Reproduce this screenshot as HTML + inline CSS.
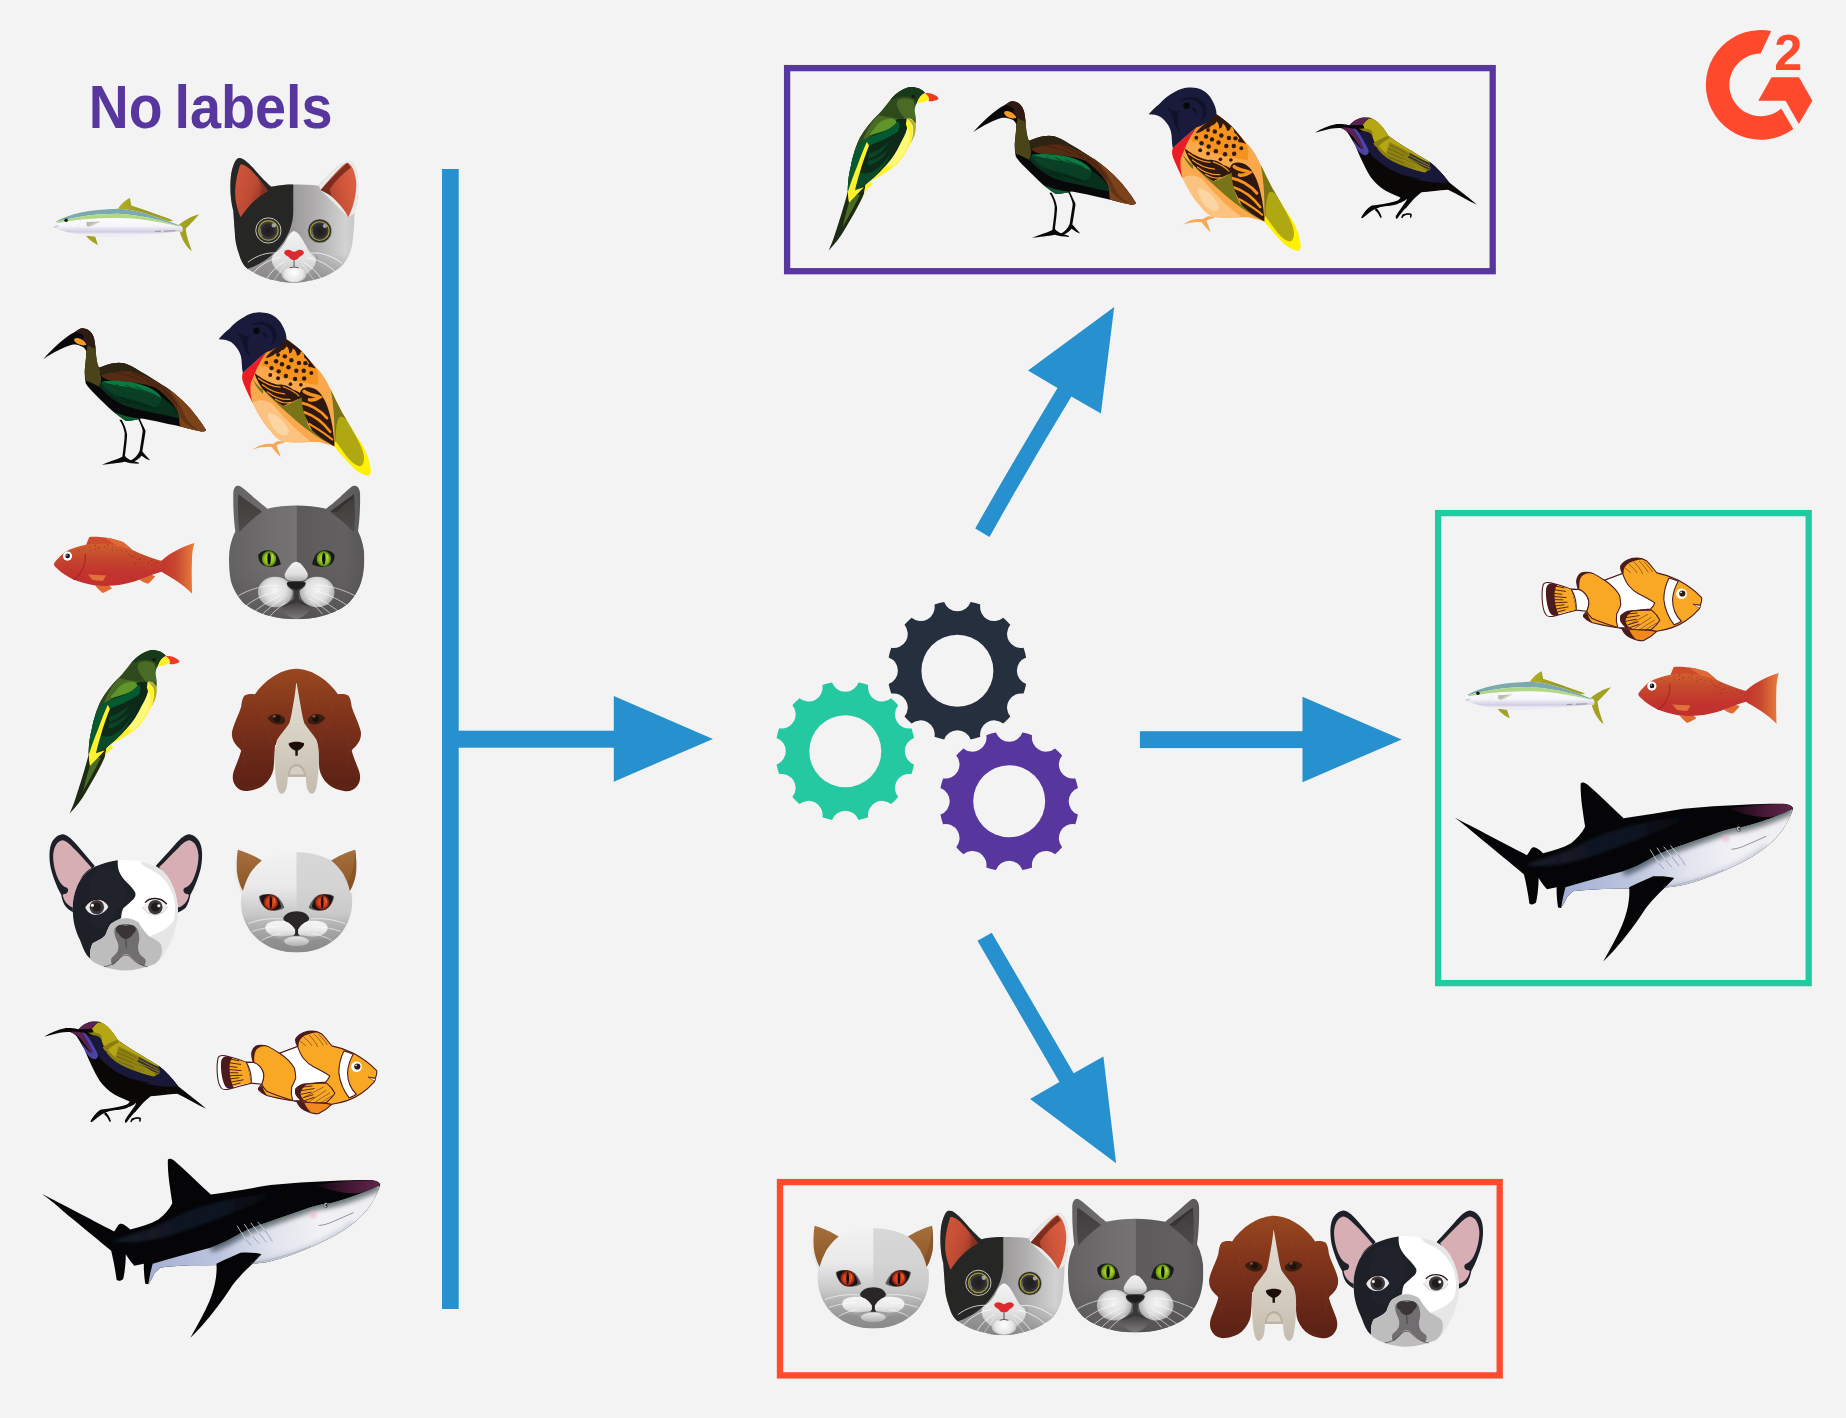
<!DOCTYPE html>
<html lang="en"><head><meta charset="utf-8"><title>No labels - unsupervised learning</title>
<style>
html,body{margin:0;padding:0;background:#f3f3f3;}
body{width:1846px;height:1418px;overflow:hidden;font-family:"Liberation Sans",sans-serif;}
svg{display:block}
</style></head><body>
<svg width="1846" height="1418" viewBox="0 0 1846 1418">
<defs>
<linearGradient id="tunaBody" gradientUnits="userSpaceOnUse" x1="0" y1="380" x2="0" y2="590">
<stop offset="0" stop-color="#ffffff"/><stop offset="0.45" stop-color="#f3f3f9"/><stop offset="0.72" stop-color="#d3cce2"/><stop offset="0.86" stop-color="#f1f0f7"/><stop offset="1" stop-color="#e4e4ee"/></linearGradient>
<linearGradient id="tunaFin" gradientUnits="userSpaceOnUse" x1="800" y1="0" x2="1400" y2="0">
<stop offset="0" stop-color="#b0ae2a"/><stop offset="0.5" stop-color="#9a981c"/><stop offset="1" stop-color="#a8a622"/></linearGradient>
<g id="tuna" transform="translate(40,180) scale(0.097504)">
<path fill="url(#tunaFin)" d="M795,300 C830,250 880,200 922,185 L937,262 C1050,300 1200,350 1368,415 L1330,425 C1200,395 1000,335 900,310 Z"/>
<path fill="#a3a122" d="M1422,462 C1480,412 1560,365 1632,350 C1580,415 1520,470 1494,500 C1502,580 1532,660 1557,727 C1500,690 1450,600 1435,530 Z"/>
<path fill="#a3a122" d="M470,570 L565,578 L594,667 C550,650 500,610 470,570 Z"/>
<path fill="url(#tunaBody)" d="M135,480 C140,455 150,435 165,425 C300,350 500,300 800,295 C1000,300 1200,380 1420,462 L1447,470 C1470,485 1470,520 1455,535 L1400,528 C1200,560 900,585 600,582 C450,575 300,545 200,510 C170,500 145,490 135,480 Z"/>
<path fill="#7ba9ad" d="M165,425 C300,350 500,300 800,295 C1000,300 1200,380 1420,462 L1440,476 C1300,440 1150,372 800,347 C550,347 350,382 165,432 Z"/>
<path fill="#b1d888" d="M165,432 C350,382 550,347 800,347 C1150,372 1300,440 1440,476 L1400,472 C1200,424 1000,390 800,390 C550,390 350,408 180,442 Z"/>
<path fill="#b9bca6" d="M475,432 L622,425 C580,440 545,468 505,478 L478,472 Z"/>
<path fill="#d9d9d0" d="M505,478 C515,455 540,440 575,432 L622,425 C580,440 545,468 505,478 Z" opacity=".7"/>
<circle cx="268" cy="412" r="18" fill="#161616"/>
<path fill="none" stroke="#dddde8" stroke-width="4" d="M415,395 C420,440 400,480 370,500"/>
<path fill="none" stroke="#66666e" stroke-width="6" stroke-dasharray="60 30 120 20" d="M1180,527 L1412,520"/>
<path fill="#d0c8e0" d="M135,480 C150,470 175,465 200,468 C180,480 160,490 150,492 Z"/>
</g>

<linearGradient id="calGrey" gradientUnits="userSpaceOnUse" x1="740" y1="0" x2="1400" y2="0">
<stop offset="0" stop-color="#9b9999"/><stop offset="0.35" stop-color="#b0aeae"/><stop offset="0.8" stop-color="#d2d2d2"/><stop offset="1" stop-color="#c4c4c4"/></linearGradient>
<linearGradient id="calLow" gradientUnits="userSpaceOnUse" x1="0" y1="1050" x2="0" y2="1340">
<stop offset="0" stop-color="#8e8c8c" stop-opacity="0"/><stop offset="1" stop-color="#7f7d7d" stop-opacity=".75"/></linearGradient>
<linearGradient id="calEarL" gradientUnits="userSpaceOnUse" x1="150" y1="300" x2="480" y2="420">
<stop offset="0" stop-color="#cf553b"/><stop offset="0.6" stop-color="#bd4a33"/><stop offset="1" stop-color="#8a3322"/></linearGradient>
<linearGradient id="calEarR" gradientUnits="userSpaceOnUse" x1="1050" y1="380" x2="1380" y2="300">
<stop offset="0" stop-color="#a8432c"/><stop offset="0.5" stop-color="#cc5439"/><stop offset="1" stop-color="#de5f41"/></linearGradient>
<linearGradient id="calMuz" gradientUnits="userSpaceOnUse" x1="0" y1="820" x2="0" y2="1300">
<stop offset="0" stop-color="#f4f4f4"/><stop offset="0.6" stop-color="#e2e2e2"/><stop offset="1" stop-color="#b9b9b9"/></linearGradient>
<radialGradient id="calChin" gradientUnits="userSpaceOnUse" cx="750" cy="1240" r="130">
<stop offset="0" stop-color="#ffffff"/><stop offset="0.7" stop-color="#e6e6e6"/><stop offset="1" stop-color="#bdbdbd"/></radialGradient>
<radialGradient id="calPupil" gradientUnits="userSpaceOnUse" cx="0" cy="0" r="90">
<stop offset="0" stop-color="#1d1b1e"/><stop offset="0.7" stop-color="#2a282b"/><stop offset="1" stop-color="#4a4a4c"/></radialGradient>
<clipPath id="calClip"><path d="M190,82 C230,75 300,140 360,210 C420,280 480,340 520,372 C600,355 680,350 740,350 C820,350 920,352 1000,362 C1050,300 1120,220 1200,160 C1250,125 1290,105 1315,112 C1370,125 1400,230 1402,350 C1402,480 1385,560 1362,640 C1362,720 1357,800 1350,850 C1345,950 1330,1020 1300,1080 C1270,1140 1230,1190 1180,1215 C1100,1270 1000,1310 900,1325 C850,1340 800,1345 740,1345 C680,1345 630,1340 580,1325 C480,1310 380,1270 300,1215 C250,1190 215,1130 195,1060 C165,980 150,900 150,830 C145,760 140,700 135,620 C110,520 100,420 105,330 C110,200 150,90 190,82 Z"/></clipPath>
<g id="calico" transform="translate(220,150) scale(0.098726)">
<g clip-path="url(#calClip)">
<rect x="80" y="60" width="1340" height="1300" fill="url(#calGrey)"/>
<path fill="#e9e9e9" d="M1000,362 C1050,300 1120,220 1200,160 C1250,125 1290,105 1315,112 C1370,125 1400,230 1402,350 C1402,480 1385,560 1362,640 L1300,680 L1020,405 Z"/>
<rect x="80" y="1000" width="1340" height="360" fill="url(#calLow)"/>
<path fill="#262625" d="M742,340 L742,640 C737,760 692,870 622,960 C562,1040 482,1110 402,1150 C352,1180 302,1200 255,1210 L0,1300 L0,0 L742,0 Z"/>
<path fill="url(#calMuz)" d="M750,820 C715,830 690,870 662,930 C625,990 575,1040 535,1065 C505,1110 535,1190 600,1235 C650,1300 850,1300 900,1235 C965,1190 995,1110 965,1065 C925,1040 880,990 848,930 C810,860 785,830 750,820 Z"/>
<path fill="#8f8d8d" opacity=".55" d="M870,960 C900,1010 940,1045 985,1070 C1000,1100 990,1150 960,1190 C990,1120 960,1075 930,1060 C905,1040 885,1000 870,960 Z"/>
<ellipse cx="750" cy="1262" rx="125" ry="78" fill="url(#calChin)"/>
</g>
<path fill="url(#calEarL)" d="M205,150 C170,250 140,400 160,520 C175,600 195,650 210,682 C260,600 330,520 400,470 C430,450 460,430 487,415 C440,350 380,270 320,210 C280,170 230,140 205,150 Z"/>
<path fill="#7c2c1b" opacity=".55" d="M487,415 C450,370 420,330 395,300 C420,360 420,420 400,470 Z"/>
<path fill="url(#calEarR)" d="M1290,130 C1330,140 1372,220 1380,330 C1385,450 1350,580 1300,680 C1260,600 1200,530 1130,470 C1090,440 1050,420 1020,405 C1080,330 1160,240 1230,170 C1255,150 1275,132 1290,130 Z"/>
<path fill="#6e2416" opacity=".8" d="M1020,405 C1100,320 1200,215 1290,130 L1325,180 C1245,240 1160,320 1110,400 L1130,470 C1090,440 1050,420 1020,405 Z"/>
<g transform="translate(490,815)">
<circle r="128" fill="#2a2a27" stroke="#efefef" stroke-width="8"/>
<circle r="99" fill="none" stroke="#a0973a" stroke-width="14"/>
<circle r="88" fill="url(#calPupil)"/>
<circle cx="55" cy="-52" r="22" fill="#c9caca" opacity=".75"/>
<path d="M-80,-20 A82,82 0 0 0 -60,58" fill="none" stroke="#8f979c" stroke-width="14" opacity=".6"/>
</g>
<g transform="translate(1010,820)">
<circle r="121" fill="#2a2a27" stroke="#bdbdbd" stroke-width="6"/>
<circle r="95" fill="none" stroke="#a0973a" stroke-width="14"/>
<circle r="84" fill="url(#calPupil)"/>
<circle cx="52" cy="-50" r="21" fill="#c9caca" opacity=".75"/>
<path d="M-76,-20 A78,78 0 0 0 -58,55" fill="none" stroke="#8f979c" stroke-width="13" opacity=".6"/>
</g>
<path fill="#dc2a30" d="M650,1035 C660,1008 700,1003 722,1020 C740,1035 760,1035 778,1020 C800,1003 840,1008 850,1035 C850,1060 822,1070 800,1087 C790,1107 770,1116 750,1113 C730,1116 710,1107 700,1087 C678,1070 650,1060 650,1035 Z"/>
<path fill="none" stroke="#3b2b2b" stroke-width="8" d="M750,1113 L750,1182 M705,1194 Q750,1176 795,1194"/>
<g fill="none" stroke="#ffffff" stroke-width="7.5" stroke-linecap="round">
<path d="M580,1045 C480,1030 370,1070 285,1135"/><path d="M615,1085 C510,1100 400,1170 335,1245"/><path d="M650,1135 C580,1170 520,1230 480,1295"/><path d="M660,1160 C610,1230 560,1300 520,1360" opacity=".6"/>
<path d="M920,1045 C1020,1030 1140,1075 1235,1145"/><path d="M885,1090 C990,1105 1100,1165 1170,1235"/><path d="M850,1140 C920,1175 980,1235 1020,1295"/><path d="M840,1165 C890,1235 940,1300 985,1365" opacity=".6"/>
</g>
</g>

<g id="ibis" transform="translate(30,310) scale(0.119889)">
<path fill="#08080a" d="M110,410 C180,330 280,230 370,185 C400,165 420,155 430,152 C480,150 520,180 535,240 C545,290 548,330 550,370 C555,420 560,460 575,482 C620,465 680,440 740,440 C800,440 850,470 900,500 C1000,560 1100,620 1150,655 C1250,730 1320,800 1360,850 C1410,910 1450,970 1468,1000 C1460,1015 1440,1018 1410,1010 C1350,1000 1270,975 1200,960 C1100,940 1000,915 930,905 C880,918 840,925 800,925 C760,900 720,870 690,845 C640,800 590,750 555,715 C510,670 480,640 465,610 C455,560 455,510 460,470 C465,420 470,380 470,345 C460,320 440,300 420,300 C400,290 380,285 350,290 C280,310 200,350 110,410 Z"/>
<path fill="#2f1a14" d="M380,180 C400,165 420,152 430,152 C480,150 520,180 535,240 C540,270 545,300 547,325 L480,292 C475,275 460,262 445,255 C440,240 445,225 450,215 C430,200 400,190 380,180 Z"/>
<path fill="#f49a28" d="M370,240 C390,225 420,235 445,255 C460,268 470,280 470,292 C440,302 400,290 380,270 C370,260 365,250 370,240 Z"/>
<path fill="#4a4419" d="M480,292 L547,325 C550,370 555,430 575,482 C595,478 600,500 585,540 C600,560 595,600 578,640 C540,620 500,600 465,590 C455,540 455,500 460,470 C465,420 470,380 470,345 C475,325 478,305 480,292 Z"/>
<path fill="#2e2412" d="M575,482 C620,465 680,440 740,440 C800,440 850,470 900,500 C960,535 1020,570 1080,610 C980,570 880,530 800,520 C720,515 640,530 590,545 C585,520 580,500 575,482 Z"/>
<path fill="#562b14" d="M590,545 C680,520 760,505 850,515 C1000,560 1100,620 1150,655 C1250,730 1320,800 1360,850 L1245,875 C1200,780 1130,700 1050,650 C950,610 800,592 700,592 C650,588 610,572 590,545 Z"/>
<path fill="#7c431b" d="M1150,655 C1250,730 1320,800 1360,850 C1410,910 1450,970 1468,1000 C1460,1015 1440,1018 1410,1010 C1350,1000 1300,985 1250,970 L1240,870 C1225,790 1190,720 1150,655 Z"/>
<path fill="#5c3014" opacity=".8" d="M1150,655 C1210,720 1260,800 1290,880 C1310,920 1350,970 1410,1000 C1350,990 1290,950 1260,900 C1230,820 1190,720 1150,655 Z"/>
<path fill="#08301d" d="M578,640 C580,610 590,600 600,598 C620,660 690,700 760,720 C850,740 950,770 1040,812 C1070,800 1100,760 1090,720 C1150,760 1220,820 1240,870 L1248,905 C1200,895 1150,882 1100,872 C1000,852 900,832 800,800 C720,770 640,710 578,640 Z"/>
<path fill="#0a7a40" d="M600,598 C680,585 800,590 900,615 C1000,640 1060,680 1090,720 C1100,760 1070,800 1040,812 C950,770 850,740 760,720 C690,700 620,660 600,598 Z"/>
<path fill="#0a3f26" d="M600,598 C620,660 690,700 760,720 C850,740 950,770 1040,812 C1070,800 1095,770 1090,730 C1020,690 900,660 820,645 C740,632 660,620 600,598 Z"/>
<g fill="none" stroke-linecap="round">
<g stroke="#0b4a2a" stroke-width="9"><path d="M640,625 C680,660 720,680 760,690"/><path d="M720,620 C770,655 820,672 870,680"/><path d="M800,625 C850,655 910,672 960,678"/><path d="M880,640 C930,665 980,685 1030,700"/></g>
<g stroke="#07261a" stroke-width="10"><path d="M640,700 C700,740 770,765 840,780"/><path d="M760,735 C830,765 900,785 980,800"/><path d="M880,770 C940,795 1000,812 1060,828"/></g>
<g stroke="#3d2010" stroke-width="8" opacity=".8"><path d="M700,520 C780,530 860,555 930,590"/><path d="M850,525 C930,555 1010,595 1080,640"/><path d="M980,600 C1050,640 1110,690 1160,750"/><path d="M1060,620 C1130,670 1190,730 1230,800"/></g>
</g>
<path fill="#0a5a34" d="M690,845 C760,880 850,900 930,905 C880,918 840,925 800,925 C760,900 720,870 690,845 Z"/>
<path fill="#08080a" d="M765,915 C790,960 805,1000 810,1040 C807,1100 797,1170 792,1215 C802,1235 832,1250 852,1255 L908,1275 L908,1283 C860,1280 820,1275 790,1265 C740,1275 660,1285 600,1290 C650,1270 720,1250 770,1225 C780,1150 790,1080 790,1030 C785,990 770,950 745,915 Z"/>
<path fill="#08080a" d="M915,905 C935,950 955,985 964,1010 C957,1060 947,1120 937,1180 C962,1210 987,1235 1002,1254 C972,1245 947,1225 930,1215 C910,1240 880,1262 850,1267 L838,1256 C875,1240 900,1210 915,1175 C925,1110 935,1050 940,1010 C935,980 920,945 900,905 Z"/>
</g>

<g id="obird" transform="translate(205,300) scale(0.130463)">
<path fill="#fff200" d="M960,680 C1000,760 1030,820 1050,860 C1100,950 1160,1040 1200,1100 C1240,1170 1265,1240 1270,1300 C1272,1330 1265,1347 1250,1347 C1210,1342 1170,1315 1150,1300 C1090,1240 1030,1170 985,1115 C990,1000 980,850 960,680 Z"/>
<path fill="#b0a812" d="M1030,900 C1060,880 1090,920 1120,980 C1160,1050 1200,1120 1215,1180 C1225,1230 1215,1265 1190,1275 C1150,1270 1110,1230 1080,1190 C1040,1140 1015,1100 990,1070 C995,1000 1010,930 1030,900 Z"/>
<path fill="#7a7418" d="M960,680 C1000,760 1030,820 1050,860 C1080,910 1110,960 1125,990 C1090,920 1060,880 1030,900 C1010,930 1000,1000 1000,1080 L985,1115 C990,1000 980,850 960,680 Z"/>
<path fill="#f9a94b" d="M290,560 C280,590 285,610 300,650 C320,700 345,750 365,790 C400,860 450,950 500,1000 C530,1040 560,1070 600,1085 C700,1100 800,1085 880,1090 C920,1100 960,1110 992,1122 C996,980 990,820 964,690 C935,615 885,545 850,515 C780,430 700,350 625,300 L470,400 Z"/>
<path fill="#fbc280" d="M365,790 C400,860 450,950 500,1000 C530,1040 560,1070 600,1085 C700,1100 790,1090 810,1082 C700,1000 600,900 520,800 C470,760 400,760 365,790 Z"/>
<path fill="#fcd5a5" d="M480,870 C520,860 580,900 620,960 C650,1000 650,1030 620,1040 C580,1040 540,1010 515,970 C495,930 480,900 480,870 Z"/>
<path fill="#f6921e" d="M470,400 L540,370 L625,300 C700,350 780,430 850,520 C872,560 872,620 862,652 C800,642 700,622 600,600 C540,560 470,480 430,520 C440,470 450,430 470,400 Z"/>
<g fill="#2e1810">
<circle cx="545" cy="470" r="17"/><circle cx="612" cy="432" r="17"/><circle cx="662" cy="462" r="17"/><circle cx="720" cy="482" r="17"/><circle cx="770" cy="484" r="17"/><circle cx="590" cy="492" r="17"/><circle cx="640" cy="516" r="17"/><circle cx="700" cy="542" r="17"/><circle cx="757" cy="542" r="17"/><circle cx="510" cy="522" r="17"/><circle cx="565" cy="547" r="17"/><circle cx="620" cy="582" r="17"/><circle cx="690" cy="606" r="17"/><circle cx="760" cy="602" r="17"/><circle cx="805" cy="500" r="15"/><circle cx="470" cy="480" r="15"/><circle cx="500" cy="575" r="15"/><circle cx="560" cy="600" r="15"/><circle cx="815" cy="560" r="15"/><circle cx="655" cy="645" r="14"/><circle cx="735" cy="650" r="14"/><circle cx="560" cy="420" r="15"/>
<path d="M625,300 C660,325 700,350 740,390 C780,430 815,480 850,525 L815,515 C800,480 780,450 760,440 C765,420 750,400 735,395 C730,420 720,430 705,425 C700,400 690,380 672,370 C670,395 660,410 645,408 C645,385 640,365 625,355 C615,375 600,385 585,385 C580,400 560,410 540,410 C520,430 490,440 465,445 C475,425 500,400 540,370 Z"/>
<path d="M380,560 C430,600 500,640 560,650 C600,640 640,660 680,690 C720,700 740,720 745,745 L600,812 C540,780 480,720 440,680 C410,640 390,600 380,560 Z"/>
<path d="M745,680 C800,650 870,680 900,740 C940,800 960,880 975,960 C985,1020 990,1080 992,1122 C940,1090 880,1060 830,1020 C790,940 750,860 720,800 C710,760 720,710 745,680 Z"/>
</g>
<g fill="none" stroke="#f6921e" stroke-linecap="round">
<path stroke-width="11" d="M410,600 C460,640 520,665 575,668"/><path stroke-width="10" d="M440,650 C490,690 550,715 610,720"/><path stroke-width="10" d="M480,705 C530,745 590,765 650,762"/><path stroke-width="9" d="M540,760 C580,785 620,795 660,785"/><path stroke-width="10" d="M600,665 C640,680 690,705 720,735"/>
<path stroke-width="26" d="M760,700 C800,730 850,730 880,745 C860,760 830,770 800,765"/>
<path stroke-width="22" d="M745,790 C800,800 880,840 935,905"/><path stroke-width="20" d="M760,860 C820,880 900,930 960,1010"/><path stroke-width="16" d="M800,950 C850,980 920,1020 975,1070"/>
</g>
<path fill="#7a7418" d="M445,690 C500,740 560,790 600,815 C650,800 700,770 742,745 C737,800 760,880 800,980 C860,1040 930,1090 992,1122 C930,1092 850,1045 760,975 C690,920 570,815 445,690 Z"/>
<path fill="#7a7418" d="M365,610 C385,650 410,690 445,720 L445,690 C415,665 390,640 365,610 Z"/>
<path fill="#ec1c24" d="M470,400 C420,440 340,510 290,560 C280,590 285,610 300,650 C320,700 345,750 365,790 C350,740 345,690 350,640 C365,600 385,560 400,520 C420,480 445,440 470,400 Z"/>
<path fill="#1a1b3a" d="M105,300 C130,270 160,240 185,222 C220,180 260,150 300,130 C340,105 390,92 430,95 C500,95 560,130 590,190 C615,230 625,270 625,300 C600,330 570,355 540,370 C515,385 490,395 470,400 C420,440 340,510 290,560 C280,520 285,470 275,430 C265,390 235,350 200,322 C170,305 135,300 105,300 Z"/>
<path fill="#10112a" d="M230,230 C260,260 285,310 300,360 C310,400 330,420 350,430 C320,380 320,320 340,270 C300,290 260,260 230,230 Z M340,200 C400,150 500,160 540,230 C560,280 540,330 500,350 C540,300 520,230 470,200 C430,180 380,185 340,200 Z M430,250 C460,240 480,270 470,300 C460,290 445,270 430,250 Z"/>
<circle cx="395" cy="235" r="25" fill="#08080a"/>
<path fill="#f6a85a" d="M600,1085 C560,1072 540,1088 520,1103 C470,1098 410,1108 368,1147 C420,1127 470,1122 510,1127 C530,1152 555,1182 580,1204 C572,1172 555,1140 550,1115 C570,1102 590,1097 612,1097 Z"/>
</g>

<linearGradient id="rfBody" gradientUnits="userSpaceOnUse" x1="0" y1="260" x2="0" y2="710">
<stop offset="0" stop-color="#d0602f"/><stop offset="0.3" stop-color="#c54a2d"/><stop offset="0.7" stop-color="#c2332e"/><stop offset="1" stop-color="#c2302e"/></linearGradient>
<linearGradient id="rfTail" gradientUnits="userSpaceOnUse" x1="1320" y1="0" x2="1670" y2="0">
<stop offset="0" stop-color="#c2362e"/><stop offset="0.45" stop-color="#c8472e"/><stop offset="1" stop-color="#e97d3c"/></linearGradient>
<linearGradient id="rfFin" gradientUnits="userSpaceOnUse" x1="0" y1="0" x2="1" y2="0" gradientTransform="translate(520,0) scale(200,1)">
<stop offset="0" stop-color="#cf4a2c"/><stop offset="1" stop-color="#e8773a"/></linearGradient>
<g id="redfish" transform="translate(40,520) scale(0.092090)">
<path fill="#cf4a2c" d="M500,272 L535,185 C600,180 660,185 700,190 C780,200 850,220 900,240 C940,270 970,295 1000,322 Z"/>
<path fill="#e06a35" d="M700,190 C780,200 850,220 900,240 C940,270 970,295 1000,322 L850,290 Z"/>
<path fill="#e06a32" d="M600,712 C625,745 650,770 680,792 C720,775 750,760 782,740 L740,700 Z"/>
<path fill="#e06a32" d="M1080,650 C1110,670 1140,685 1172,692 C1200,670 1230,640 1252,610 C1225,600 1200,595 1180,595 Z"/>
<path fill="url(#rfBody)" d="M150,480 C160,455 180,430 200,415 C220,390 240,370 260,355 C330,310 420,285 500,270 C590,255 680,255 750,260 C840,275 920,295 1000,322 C1100,370 1200,410 1300,440 L1340,445 L1340,560 L1320,562 C1250,580 1170,615 1100,640 C1000,680 900,700 800,712 C730,718 660,716 600,712 C510,695 420,670 350,640 C290,610 240,575 200,540 C175,520 160,505 155,495 Z"/>
<path fill="url(#rfTail)" d="M1320,442 C1360,400 1420,360 1480,330 C1550,295 1620,265 1677,250 C1660,300 1650,370 1650,440 C1645,560 1650,700 1652,802 C1600,750 1540,700 1480,660 C1420,620 1360,590 1320,562 C1335,520 1335,480 1320,442 Z"/>
<path fill="#e2703a" d="M520,590 C580,598 650,600 717,600 C705,625 695,645 682,662 C640,660 600,655 570,648 C550,630 535,610 520,590 Z"/>
<path fill="none" stroke="#a82a24" stroke-width="14" stroke-linecap="round" d="M490,370 C500,450 470,540 420,600 C400,625 385,638 368,645"/>
<circle cx="298" cy="392" r="50" fill="#ffffff"/>
<circle cx="300" cy="390" r="25" fill="#15131c"/>
<circle cx="292" cy="382" r="7" fill="#ffffff"/>
<g fill="#6e1a14" opacity=".9">
<circle cx="400" cy="318" r="5"/><circle cx="430" cy="330" r="5"/><circle cx="470" cy="305" r="5"/><circle cx="540" cy="290" r="5"/><circle cx="545" cy="325" r="5"/><circle cx="600" cy="275" r="6"/><circle cx="600" cy="320" r="5"/><circle cx="640" cy="300" r="6"/><circle cx="700" cy="290" r="5"/><circle cx="735" cy="268" r="6"/><circle cx="730" cy="305" r="5"/><circle cx="790" cy="295" r="5"/><circle cx="785" cy="330" r="5"/><circle cx="830" cy="320" r="5"/><circle cx="880" cy="330" r="5"/><circle cx="940" cy="340" r="5"/><circle cx="960" cy="375" r="5"/><circle cx="990" cy="390" r="6"/><circle cx="1020" cy="405" r="5"/><circle cx="1040" cy="370" r="5"/><circle cx="1050" cy="430" r="5"/><circle cx="1080" cy="425" r="6"/><circle cx="1040" cy="470" r="6"/><circle cx="1110" cy="460" r="5"/><circle cx="1140" cy="430" r="5"/><circle cx="1180" cy="465" r="5"/><circle cx="1215" cy="440" r="6"/><circle cx="1210" cy="490" r="5"/><circle cx="1250" cy="470" r="5"/><circle cx="1275" cy="465" r="6"/><circle cx="1305" cy="490" r="5"/>
</g>
</g>

<linearGradient id="gcL" gradientUnits="userSpaceOnUse" x1="90" y1="0" x2="745" y2="0">
<stop offset="0" stop-color="#636161"/><stop offset="0.6" stop-color="#6f6d6d"/><stop offset="1" stop-color="#757373"/></linearGradient>
<linearGradient id="gcR" gradientUnits="userSpaceOnUse" x1="745" y1="0" x2="1410" y2="0">
<stop offset="0" stop-color="#5c5a5a"/><stop offset="0.7" stop-color="#626060"/><stop offset="1" stop-color="#585656"/></linearGradient>
<linearGradient id="gcLow" gradientUnits="userSpaceOnUse" x1="0" y1="850" x2="0" y2="1360"><stop offset="0" stop-color="#555353" stop-opacity="0"/><stop offset="1" stop-color="#4e4c4c" stop-opacity=".6"/></linearGradient>
<linearGradient id="gcEar" gradientUnits="userSpaceOnUse" x1="0" y1="140" x2="0" y2="520">
<stop offset="0" stop-color="#403c3c"/><stop offset="1" stop-color="#4e4a4a"/></linearGradient>
<radialGradient id="gcMuz" gradientUnits="userSpaceOnUse" cx="0" cy="-20" r="180">
<stop offset="0" stop-color="#f4f4f4"/><stop offset="0.6" stop-color="#dedede"/><stop offset="1" stop-color="#a9a9a9"/></radialGradient>
<linearGradient id="gcNoseB" gradientUnits="userSpaceOnUse" x1="0" y1="800" x2="0" y2="1000">
<stop offset="0" stop-color="#f2f2f2"/><stop offset="0.6" stop-color="#e0e0e0"/><stop offset="1" stop-color="#a5a5a5"/></linearGradient>
<linearGradient id="gcChin" gradientUnits="userSpaceOnUse" x1="0" y1="1220" x2="0" y2="1360">
<stop offset="0" stop-color="#4a4848"/><stop offset="1" stop-color="#7d7b7b"/></linearGradient>
<radialGradient id="gcIris" gradientUnits="userSpaceOnUse" cx="0" cy="0" r="75">
<stop offset="0" stop-color="#b7e02a"/><stop offset="0.6" stop-color="#8fc21c"/><stop offset="1" stop-color="#4f7a10"/></radialGradient>
<clipPath id="gcClip"><path d="M170,55 C200,50 260,110 330,170 C380,215 430,255 462,280 C550,258 650,250 745,250 C840,250 940,258 1038,280 C1070,255 1120,215 1170,170 C1240,110 1290,50 1320,55 C1360,65 1372,110 1370,160 C1372,280 1362,420 1350,500 C1390,580 1412,670 1412,760 C1412,850 1400,940 1380,1000 C1350,1090 1300,1170 1240,1220 C1170,1270 1090,1310 1000,1330 C920,1352 830,1362 745,1362 C660,1362 570,1352 490,1330 C400,1310 320,1270 250,1220 C190,1170 140,1090 110,1000 C95,940 88,850 88,760 C88,670 110,580 150,500 C138,420 128,280 130,160 C128,110 135,65 170,55 Z"/></clipPath>
<g id="greycat" transform="translate(220,480) scale(0.102260)">
<g clip-path="url(#gcClip)">
<rect x="80" y="40" width="666" height="1330" fill="url(#gcL)"/>
<rect x="745" y="40" width="680" height="1330" fill="url(#gcR)"/>
<rect x="80" y="850" width="1340" height="520" fill="url(#gcLow)"/>
<path fill="url(#gcChin)" d="M600,1240 C650,1215 700,1195 745,1185 C790,1195 840,1215 890,1240 C870,1300 820,1340 745,1362 C670,1340 620,1300 600,1240 Z"/>
</g>
<path fill="url(#gcEar)" d="M180,140 C250,190 340,255 412,310 C330,370 250,440 190,512 C175,400 170,260 180,140 Z"/>
<path fill="url(#gcEar)" d="M1310,140 C1240,190 1150,255 1078,310 C1160,370 1240,440 1310,512 C1320,400 1322,260 1310,140 Z"/>
<path fill="#2e2a2a" opacity=".6" d="M1078,310 C1150,255 1240,190 1310,140 L1300,175 C1240,220 1180,270 1140,315 Z"/>
<g transform="translate(540,1095)"><ellipse rx="170" ry="150" fill="url(#gcMuz)"/></g>
<g transform="translate(950,1095)"><ellipse rx="170" ry="150" fill="url(#gcMuz)"/></g>
<path fill="url(#gcNoseB)" d="M745,800 C700,805 672,850 642,900 C612,955 650,992 745,994 C840,992 878,955 850,900 C820,850 790,805 745,800 Z"/>
<path fill="#3a3838" d="M655,1002 C680,985 810,985 838,1002 C845,1030 810,1065 770,1082 L770,1160 C800,1195 850,1225 892,1240 L745,1200 L600,1240 C640,1225 690,1195 722,1160 L722,1082 C680,1065 645,1030 655,1002 Z"/>
<path fill="#1e1c1c" d="M660,1005 C690,992 800,992 832,1005 C830,1030 800,1055 745,1075 C690,1055 660,1030 660,1005 Z"/>
<g transform="translate(480,770)">
<path fill="#1c1a18" d="M-105,-40 C-60,-95 40,-100 85,-30 C100,0 110,30 115,55 C70,85 -30,95 -80,45 C-100,20 -108,-10 -105,-40 Z"/>
<ellipse rx="70" ry="76" fill="url(#gcIris)"/>
<ellipse rx="17" ry="58" fill="#0d0d12"/>
<path fill="#d8f08a" opacity=".6" d="M25,-55 C45,-40 50,-10 40,10 C35,-15 30,-35 25,-55 Z"/>
</g>
<g transform="translate(1015,770) scale(-1,1)">
<path fill="#1c1a18" d="M-105,-40 C-60,-95 40,-100 85,-30 C100,0 110,30 115,55 C70,85 -30,95 -80,45 C-100,20 -108,-10 -105,-40 Z"/>
<ellipse rx="70" ry="76" fill="url(#gcIris)"/>
<ellipse rx="17" ry="58" fill="#0d0d12"/>
<path fill="#d8f08a" opacity=".6" d="M-25,-55 C-45,-40 -50,-10 -40,10 C-35,-15 -30,-35 -25,-55 Z"/>
</g>
<g fill="none" stroke="#ffffff" stroke-width="5" stroke-linecap="round" stroke-dasharray="14 3">
<path d="M560,1030 C420,1030 280,1070 175,1135"/><path d="M540,1090 C430,1120 330,1170 255,1230"/><path d="M590,1130 C480,1180 390,1240 335,1290"/><path d="M610,1165 C520,1220 450,1275 410,1320"/><path d="M640,1200 C570,1250 520,1295 490,1330"/>
<path d="M940,1030 C1080,1030 1210,1075 1325,1135"/><path d="M950,1090 C1060,1120 1170,1170 1245,1230"/><path d="M900,1130 C1010,1180 1100,1240 1160,1285"/><path d="M870,1160 C960,1215 1040,1270 1085,1310"/><path d="M885,1195 C940,1240 975,1280 1000,1310"/>
</g>
</g>

<g id="gbird" transform="translate(50,640) scale(0.126939)">
<path fill="#1e2a14" d="M305,900 C280,1000 240,1130 200,1250 C185,1300 165,1340 155,1367 C200,1320 250,1260 285,1195 C340,1100 400,1000 432,920 L445,850 Z"/>
<path fill="#4a6b25" d="M330,930 C310,1010 280,1100 262,1190 C300,1120 350,1030 400,930 C380,925 350,925 330,930 Z"/>
<path fill="#0d2a18" d="M540,300 C600,300 700,320 770,330 L772,405 L720,522 L600,702 L440,852 L360,892 L305,900 C305,820 315,760 330,700 C345,620 370,540 400,480 C440,410 490,350 540,300 Z"/>
<path fill="#2e4a1c" d="M640,180 C680,130 740,90 790,80 C840,75 890,95 912,125 C880,140 860,170 850,205 C835,225 830,250 830,272 C840,300 842,340 840,372 C820,330 790,320 770,330 C700,330 640,340 600,360 C560,390 520,430 490,470 C440,520 410,580 400,640 C380,720 340,820 305,900 C305,820 315,760 330,700 C345,620 370,540 400,480 C440,410 490,350 540,300 C580,260 610,220 640,180 Z"/>
<path fill="#173a1a" d="M640,180 C680,130 740,90 790,80 C840,75 890,95 912,125 C880,140 860,170 850,205 C840,200 830,185 825,170 C780,150 720,150 680,170 C665,172 650,176 640,180 Z"/>
<path fill="#4a6b25" d="M700,180 C740,160 790,165 820,185 C835,215 830,250 830,272 C835,300 838,320 835,340 C810,325 780,322 760,330 C730,300 700,260 690,220 C690,205 693,190 700,180 Z"/>
<path fill="#4a6b25" d="M540,300 C580,310 640,320 700,330 C640,350 580,380 530,420 C490,450 450,490 420,520 C440,440 490,360 540,300 Z"/>
<path fill="#5f9629" d="M520,400 C550,350 610,320 660,330 C690,340 700,370 680,390 C640,410 580,430 530,445 C500,455 470,465 480,450 C490,430 505,415 520,400 Z"/>
<circle cx="820" cy="155" r="14" fill="#1a1410"/>
<path fill="#ffef1a" d="M850,205 C860,170 885,140 912,128 C940,128 955,140 950,160 C945,180 920,195 890,200 C875,205 860,207 850,205 Z"/>
<path fill="#ee3a24" d="M912,128 C945,122 985,135 1010,155 C1020,165 1022,172 1015,178 C990,190 960,195 940,190 C950,170 945,150 912,128 Z"/>
<path fill="#b5b01c" d="M770,330 C800,325 830,345 840,372 C845,430 830,480 800,522 C820,470 825,420 815,380 C800,355 785,340 770,330 Z"/>
<path fill="#fff22d" d="M770,330 C790,345 810,370 815,400 C820,440 810,490 800,522 C770,580 740,630 700,680 C660,720 610,750 560,780 C520,800 480,825 445,850 L432,920 C440,900 470,870 500,845 C480,830 470,800 600,700 C660,640 700,580 720,520 C740,460 760,400 770,330 Z"/>
<path fill="#fff97a" d="M770,400 C800,430 800,500 770,560 C740,620 700,680 650,710 C630,715 615,700 620,680 C660,620 700,570 720,520 C740,470 760,430 770,400 Z"/>
<path fill="#0d2a18" d="M730,330 C750,350 770,380 772,405 C760,450 740,490 720,522 C690,590 650,650 600,702 C550,760 490,815 440,852 C410,870 385,882 360,892 C370,850 385,800 400,752 C420,680 445,610 470,540 L455,510 C420,520 390,520 380,530 C420,500 480,470 540,450 C600,430 660,400 700,350 C710,340 720,333 730,330 Z"/>
<path fill="#065a32" d="M380,530 C420,500 480,470 540,450 C600,430 660,400 700,350 C715,370 715,400 700,430 C640,470 560,510 470,540 L455,510 C430,515 400,520 380,530 Z"/>
<path fill="#0a4a2a" d="M400,752 C440,770 490,760 540,720 C580,690 620,640 650,590 C620,660 580,720 530,770 C490,810 440,850 400,875 L360,892 C370,850 385,800 400,752 Z"/>
<path fill="#0a4326" d="M470,600 C520,590 580,560 630,510 C600,570 540,620 475,645 C465,632 465,615 470,600 Z M465,660 C520,650 580,615 625,570 C595,630 535,680 470,700 C460,690 460,672 465,660 Z"/>
<path fill="#065a32" d="M330,700 C345,620 370,560 395,525 L455,510 C430,560 400,640 380,700 C355,780 330,850 315,905 L305,900 C305,820 315,760 330,700 Z"/>
<path fill="#fff22d" d="M455,510 L472,542 C445,610 420,680 400,752 C385,800 372,850 362,892 L432,868 C395,910 350,955 315,992 C308,960 305,930 307,900 C330,830 355,760 380,700 C405,630 430,565 455,510 Z"/>
</g>

<linearGradient id="bgBrown" gradientUnits="userSpaceOnUse" x1="0" y1="130" x2="0" y2="1290">
<stop offset="0" stop-color="#98481f"/><stop offset="0.35" stop-color="#82351b"/><stop offset="0.7" stop-color="#6a2818"/><stop offset="1" stop-color="#5a2114"/></linearGradient>
<linearGradient id="bgWhite" gradientUnits="userSpaceOnUse" x1="0" y1="270" x2="0" y2="1310">
<stop offset="0" stop-color="#e4dfd4"/><stop offset="0.5" stop-color="#d6d0c3"/><stop offset="1" stop-color="#c4bcae"/></linearGradient>
<g id="beagle" transform="translate(220,655) scale(0.105787)">
<path fill="url(#bgBrown)" d="M722,130 C640,130 560,165 500,205 C430,250 370,310 330,372 C290,365 250,370 230,385 C210,410 205,450 200,490 C180,560 140,630 120,700 C100,760 120,820 160,860 C180,880 195,890 200,905 C185,960 160,1020 140,1070 C115,1130 110,1190 150,1240 C180,1275 220,1290 260,1285 C320,1280 380,1260 420,1225 C470,1180 495,1130 505,1080 C515,1000 515,920 520,850 L925,850 C930,920 930,1000 940,1080 C950,1130 975,1180 1025,1225 C1065,1260 1125,1280 1185,1287 C1225,1292 1265,1275 1295,1240 C1335,1190 1330,1130 1305,1070 C1285,1020 1260,960 1245,905 C1250,890 1265,880 1285,860 C1325,820 1345,760 1325,700 C1305,630 1265,560 1245,490 C1240,450 1235,410 1215,385 C1195,370 1155,365 1115,372 C1075,310 1015,250 945,205 C885,165 805,130 722,130 Z"/>
<path fill="url(#bgWhite)" d="M720,265 C715,330 705,400 690,480 C680,540 670,600 655,645 C620,700 570,750 540,800 C520,850 515,930 518,1000 C520,1090 525,1180 540,1250 C550,1290 565,1312 582,1312 C605,1310 625,1280 632,1245 C638,1210 640,1180 640,1150 L812,1150 C812,1180 814,1210 820,1245 C827,1280 847,1310 870,1312 C887,1312 902,1290 912,1250 C927,1180 932,1090 934,1000 C937,930 932,850 912,800 C882,750 832,700 797,645 C782,600 772,540 762,480 C747,400 737,330 724,265 Z"/>
<path fill="#b9b0a2" d="M640,1150 C640,1085 675,1030 725,1030 C775,1030 812,1085 812,1150 Z"/>
<path fill="#d5cec1" d="M658,1130 C660,1090 690,1052 725,1052 C760,1052 790,1090 793,1130 Z"/>
<path fill="#1e0e0a" d="M650,835 C680,815 765,815 795,835 C800,860 770,890 735,905 L735,952 L712,952 L712,905 C677,890 645,860 650,835 Z"/>
<g transform="translate(535,602)">
<path fill="#3a1e12" d="M-85,-5 C-50,-50 20,-60 70,-10 C85,5 85,20 75,35 C40,65 -30,60 -60,25 C-70,15 -80,5 -85,-5 Z"/>
<circle cx="5" cy="0" r="32" fill="#1e100a"/><circle cx="-22" cy="-22" r="14" fill="#7a5238"/>
</g>
<g transform="translate(910,602) scale(-1,1)">
<path fill="#3a1e12" d="M-85,-5 C-50,-50 20,-60 70,-10 C85,5 85,20 75,35 C40,65 -30,60 -60,25 C-70,15 -80,5 -85,-5 Z"/>
<circle cx="5" cy="0" r="32" fill="#1e100a"/><circle cx="22" cy="-22" r="14" fill="#7a5238"/>
</g>
<g fill="none" stroke="#a5654a" stroke-width="3" stroke-dasharray="5 5" opacity=".7">
<path d="M580,180 C560,300 540,420 520,520"/><path d="M860,180 C880,300 900,420 925,520"/>
<path d="M380,450 C390,560 420,680 470,770 C500,830 510,900 505,1000"/><path d="M1065,450 C1055,560 1025,680 975,770 C945,830 935,900 940,1000"/>
<path d="M230,760 C210,860 220,960 240,1050"/><path d="M1210,730 C1230,860 1225,960 1205,1050"/>
<path d="M160,1230 C240,1270 340,1260 410,1215"/><path d="M1285,1230 C1205,1270 1105,1260 1035,1215"/>
</g>
</g>

<g id="frenchie" transform="translate(40,825) scale(0.109311)">
<!-- ears -->
<path fill="#1e2028" d="M210,85 C170,85 120,120 100,180 C80,240 85,330 100,400 C120,480 150,560 195,640 C200,680 215,720 235,745 C260,775 290,795 320,805 L500,372 C450,320 400,250 340,185 C300,140 255,90 210,85 Z"/>
<path fill="#d7aeb4" d="M205,140 C160,145 125,200 120,280 C120,360 140,440 170,500 C190,540 215,565 245,575 C262,585 262,610 245,625 C230,632 215,630 208,640 C215,690 250,735 295,752 L360,760 C340,670 340,590 365,520 C380,460 430,420 472,392 C420,330 360,260 300,205 C270,175 235,140 205,140 Z"/>
<path fill="#1e2028" d="M1360,85 C1400,85 1450,120 1470,180 C1490,240 1485,330 1470,400 C1450,480 1420,560 1375,640 C1370,680 1355,720 1335,755 C1310,780 1280,795 1250,805 L1060,372 C1110,320 1170,250 1230,185 C1270,140 1315,90 1360,85 Z"/>
<path fill="#d7aeb4" d="M1365,140 C1410,145 1445,200 1450,280 C1450,360 1430,440 1400,500 C1380,540 1355,565 1325,575 C1308,585 1308,610 1325,625 C1340,632 1355,630 1362,640 C1355,690 1320,735 1275,752 L1200,760 C1215,670 1200,560 1150,470 C1130,440 1110,410 1090,385 C1150,330 1210,260 1270,205 C1300,175 1335,140 1365,140 Z"/>
<!-- head base white -->
<path fill="#ffffff" d="M720,320 C640,330 560,355 500,382 C430,420 370,490 340,560 C310,630 298,700 300,760 C300,820 305,870 312,900 C325,960 345,1010 365,1050 C385,1100 400,1150 425,1185 C450,1225 490,1255 525,1272 C600,1310 700,1332 780,1332 C870,1330 970,1305 1050,1270 C1100,1240 1135,1195 1152,1150 C1185,1100 1215,1040 1232,980 C1250,920 1262,860 1262,800 C1262,730 1250,660 1230,600 C1210,540 1185,490 1150,450 C1125,420 1095,395 1060,380 C1010,350 950,335 900,330 C840,322 780,318 720,320 Z"/>
<path fill="#e6e6e6" d="M915,335 C960,340 1010,355 1060,380 C1095,395 1125,420 1150,450 C1185,490 1210,540 1230,600 C1250,660 1262,730 1262,800 C1262,860 1250,920 1232,980 C1215,1040 1185,1100 1152,1150 C1135,1195 1100,1240 1050,1272 L1000,1020 C1080,990 1160,960 1220,880 C1245,800 1240,700 1210,620 C1180,540 1120,470 1040,420 C990,400 940,380 915,335 Z"/>
<!-- black patch -->
<path fill="#1e2028" d="M712,322 C640,330 560,355 500,382 C430,420 370,490 340,560 C310,630 298,700 300,760 C300,820 305,870 312,900 C325,960 345,1010 365,1050 C385,1100 400,1150 425,1185 C440,1205 450,1215 462,1225 C455,1170 460,1120 482,1082 C530,1060 580,1035 602,1000 C615,960 630,920 652,900 C690,880 725,865 742,850 C745,815 750,785 762,762 C790,735 820,710 842,690 C872,665 880,640 870,615 C850,580 820,550 800,530 C770,500 735,460 722,420 C712,390 708,350 712,322 Z"/>
<path fill="#20232c" opacity=".9" d="M470,480 C500,430 560,400 620,395 C680,400 720,440 740,500 C760,560 780,600 800,640 C780,700 740,750 700,790 C660,850 640,900 600,940 C540,960 490,930 470,880 C450,800 450,700 455,620 C455,570 460,520 470,480 Z"/>
<!-- muzzle -->
<path fill="#bdbdbd" d="M652,900 C690,870 740,852 785,850 C830,852 870,868 902,892 C925,930 960,985 1002,1022 C1050,1045 1090,1065 1105,1090 C1120,1130 1118,1170 1105,1200 C1090,1235 1070,1258 1050,1272 C970,1305 870,1330 780,1332 C700,1332 600,1310 525,1272 C490,1255 468,1240 462,1225 C455,1170 460,1120 482,1082 C530,1060 580,1035 602,1000 C615,960 630,920 652,900 Z"/>
<path fill="#706e70" d="M682,950 C700,920 740,905 785,905 C830,905 870,920 890,950 C905,990 915,1030 905,1070 C890,1110 895,1150 915,1185 C935,1205 955,1215 965,1230 C970,1255 965,1275 950,1290 C900,1270 850,1230 815,1190 C800,1178 770,1178 755,1190 C725,1230 690,1262 665,1282 C650,1265 645,1240 655,1215 C680,1195 700,1175 712,1150 C725,1110 715,1080 700,1050 C685,1020 675,985 682,950 Z"/>
<path fill="none" stroke="#4a2e2a" stroke-width="6" d="M585,1295 C640,1290 690,1262 735,1215 C760,1182 810,1182 835,1215 C870,1255 920,1285 985,1298"/>
<path fill="#3a3436" d="M700,935 C715,915 745,912 765,920 C778,925 792,925 805,920 C825,912 858,915 872,935 C885,960 870,985 850,995 C840,1020 815,1040 785,1042 C755,1040 730,1020 722,995 C700,985 688,960 700,935 Z"/>
<path fill="none" stroke="#3a3436" stroke-width="7" d="M785,1040 L790,1120"/>
<!-- eyes -->
<g transform="translate(520,750)">
<path fill="#e9e9ec" d="M-105,5 C-80,-50 -20,-75 30,-65 C70,-55 95,-30 105,0 C80,45 30,75 -20,72 C-60,68 -92,40 -105,5 Z"/>
<path fill="none" stroke="#2a1a18" stroke-width="12" d="M-100,-25 C-60,-80 40,-95 100,-35"/>
<circle cx="0" cy="2" r="66" fill="#3c3839"/><circle cx="0" cy="2" r="40" fill="#1f1c1d"/><circle cx="-40" cy="-15" r="14" fill="#ffffff"/>
</g>
<g transform="translate(1055,750)">
<path fill="#eeeeee" d="M-118,0 C-90,-45 -30,-72 25,-65 C65,-58 95,-35 110,0 C95,40 45,72 -5,72 C-55,70 -95,40 -118,0 Z"/>
<path fill="none" stroke="#2a1a18" stroke-width="12" d="M-95,-40 C-50,-90 50,-95 105,-25"/>
<path fill="none" stroke="#9a9a9a" stroke-width="4" d="M-118,0 C-95,40 -55,70 -5,72 C45,72 95,40 110,0"/>
<circle cx="0" cy="2" r="66" fill="#3c3839"/><circle cx="0" cy="2" r="40" fill="#1f1c1d"/><circle cx="32" cy="-12" r="14" fill="#ffffff"/>
</g>
</g>

<linearGradient id="wcFace" gradientUnits="userSpaceOnUse" x1="0" y1="185" x2="0" y2="1280">
<stop offset="0" stop-color="#f2f2f2"/><stop offset="0.35" stop-color="#e9e9e9"/><stop offset="0.62" stop-color="#c9c8c8"/><stop offset="0.8" stop-color="#a6a5a5"/><stop offset="1" stop-color="#8b8a8a"/></linearGradient>
<linearGradient id="wcR" gradientUnits="userSpaceOnUse" x1="0" y1="185" x2="0" y2="850">
<stop offset="0" stop-color="#d6d6d6" stop-opacity=".95"/><stop offset="0.7" stop-color="#c4c4c4" stop-opacity=".55"/><stop offset="1" stop-color="#b0b0b0" stop-opacity="0"/></linearGradient>
<linearGradient id="wcEar" gradientUnits="userSpaceOnUse" x1="0" y1="160" x2="0" y2="610">
<stop offset="0" stop-color="#a5703c"/><stop offset="1" stop-color="#8c5626"/></linearGradient>
<radialGradient id="wcIris" gradientUnits="userSpaceOnUse" cx="0" cy="0" r="85">
<stop offset="0" stop-color="#f4561c"/><stop offset="0.55" stop-color="#d8401a"/><stop offset="1" stop-color="#5a1408"/></radialGradient>
<linearGradient id="wcMuz2" gradientUnits="userSpaceOnUse" x1="0" y1="930" x2="0" y2="1110"><stop offset="0" stop-color="#f6f6f6"/><stop offset="0.6" stop-color="#ebebeb"/><stop offset="1" stop-color="#cfcfcf"/></linearGradient>
<linearGradient id="wcChin" gradientUnits="userSpaceOnUse" x1="0" y1="1110" x2="0" y2="1215"><stop offset="0" stop-color="#e6e6e6"/><stop offset="1" stop-color="#adadad"/></linearGradient>
<radialGradient id="wcMuz" gradientUnits="userSpaceOnUse" cx="0" cy="-10" r="150">
<stop offset="0" stop-color="#f6f6f6"/><stop offset="0.6" stop-color="#e4e4e4"/><stop offset="1" stop-color="#c0bfbf" stop-opacity=".6"/></radialGradient>
<clipPath id="wcClip"><path d="M130,150 C220,175 330,225 405,272 C520,215 650,185 780,185 C910,185 1040,215 1155,272 C1230,225 1340,175 1440,140 C1465,230 1475,330 1468,420 C1455,500 1420,570 1380,640 C1390,700 1390,760 1378,830 C1360,920 1320,1010 1260,1080 C1190,1160 1100,1215 1000,1250 C930,1272 850,1282 780,1282 C710,1282 630,1272 560,1250 C460,1215 370,1160 300,1080 C240,1010 200,920 182,830 C170,760 170,700 180,640 C150,580 120,500 105,420 C100,330 110,230 130,150 Z"/></clipPath>
<g id="whitecat" transform="translate(225,835) scale(0.091676)">
<g clip-path="url(#wcClip)">
<rect x="90" y="120" width="1400" height="1180" fill="url(#wcFace)"/>
<path fill="url(#wcR)" d="M780,185 C910,185 1040,215 1155,272 C1230,225 1340,175 1440,140 L1480,640 L1378,830 L780,830 Z"/>
<path fill="#8a8989" opacity=".55" d="M380,1140 C500,1110 600,1130 650,1170 C700,1215 860,1215 910,1170 C960,1130 1060,1110 1180,1140 C1100,1230 940,1285 780,1285 C620,1285 460,1230 380,1140 Z"/>
</g>
<path fill="#ffffff" opacity=".7" d="M1155,272 C1230,225 1340,175 1440,140 C1465,230 1475,330 1468,420 C1455,500 1420,570 1380,640 L1360,612 C1400,540 1425,470 1432,400 C1435,320 1430,240 1420,160 C1330,190 1240,230 1160,277 Z"/>
<path fill="url(#wcEar)" d="M140,160 C230,185 330,232 402,277 C350,320 305,370 272,420 C240,480 212,545 195,612 C160,545 138,470 130,400 C125,320 128,235 140,160 Z"/>
<path fill="url(#wcEar)" d="M1420,160 C1330,185 1230,232 1158,277 C1210,320 1255,370 1288,420 C1320,480 1348,545 1362,612 C1400,545 1422,470 1430,400 C1435,320 1432,235 1420,160 Z"/>
<path fill="#7a4a20" opacity=".5" d="M1420,160 C1432,235 1435,320 1430,400 C1422,470 1400,545 1362,612 C1360,580 1352,545 1342,510 C1390,420 1415,300 1420,160 Z"/>
<path fill="url(#wcMuz2)" d="M440,1012 C440,955 520,928 640,936 C690,940 730,965 780,1030 C830,965 870,940 920,936 C1040,928 1120,955 1120,1012 C1120,1072 1040,1112 950,1106 C880,1102 820,1092 780,1086 C740,1092 680,1102 610,1106 C520,1112 440,1072 440,1012 Z"/>
<ellipse cx="780" cy="1160" rx="135" ry="52" fill="url(#wcChin)"/>
<path fill="#2a2628" d="M636,912 C640,880 680,850 730,838 C765,830 800,830 830,838 C880,850 915,880 918,912 C915,935 895,945 870,955 C840,975 815,1000 797,1030 L797,1075 L815,1100 L745,1100 L765,1075 L765,1030 C745,1000 720,975 690,955 C660,945 640,935 636,912 Z"/>
<g transform="translate(500,735)">
<path fill="#5c5a5c" d="M-130,-65 C-90,-95 -10,-100 50,-75 C95,-50 125,0 148,58 C110,85 40,100 -20,85 C-80,65 -120,0 -130,-65 Z"/>
<path fill="#1a1214" d="M-118,-62 C-80,-90 -10,-93 45,-68 C85,-45 105,0 112,50 C80,88 20,95 -25,78 C-80,55 -112,-5 -118,-62 Z"/>
<ellipse cx="0" cy="0" rx="80" ry="82" fill="url(#wcIris)"/>
<ellipse cx="0" cy="0" rx="15" ry="66" fill="#120808"/>
<path fill="#f9a070" opacity=".7" d="M25,-62 C50,-45 55,-10 45,15 C42,-15 35,-40 25,-62 Z"/>
</g>
<g transform="translate(1060,735) scale(-1,1)">
<path fill="#5c5a5c" d="M-130,-65 C-90,-95 -10,-100 50,-75 C95,-50 125,0 148,58 C110,85 40,100 -20,85 C-80,65 -120,0 -130,-65 Z"/>
<path fill="#1a1214" d="M-118,-62 C-80,-90 -10,-93 45,-68 C85,-45 105,0 112,50 C80,88 20,95 -25,78 C-80,55 -112,-5 -118,-62 Z"/>
<ellipse cx="0" cy="0" rx="80" ry="82" fill="url(#wcIris)"/>
<ellipse cx="0" cy="0" rx="15" ry="66" fill="#120808"/>
<path fill="#f9a070" opacity=".7" d="M-25,-62 C-50,-45 -55,-10 -45,15 C-42,-15 -35,-40 -25,-62 Z"/>
</g>
<g fill="none" stroke="#ffffff" stroke-width="7" stroke-linecap="round" opacity=".95">
<path d="M620,915 C500,905 370,920 255,965"/><path d="M600,1000 C490,1000 390,1020 300,1050"/><path d="M600,1075 C520,1090 450,1120 400,1150"/>
<path d="M940,915 C1060,905 1190,920 1305,965"/><path d="M960,1000 C1070,1000 1170,1020 1260,1050"/><path d="M960,1075 C1040,1090 1110,1120 1165,1150"/>
</g>
</g>

<g id="sunbird" transform="translate(30,1005) scale(0.102926)">
<path fill="#0a0806" d="M140,305 C200,270 270,235 340,225 C390,222 430,230 470,237 C500,205 540,175 580,165 C620,160 650,160 680,165 C720,180 755,210 780,240 C810,275 830,305 850,337 C900,375 950,410 1000,440 C1090,495 1170,540 1250,590 C1320,640 1380,710 1440,790 C1530,860 1620,930 1712,1007 C1620,965 1520,905 1430,862 C1340,870 1250,878 1172,887 C1130,925 1090,955 1050,990 C1010,1040 970,1090 935,1135 L925,1142 L922,1120 C950,1075 990,1020 1025,970 C1030,955 1030,950 1028,950 C1020,965 1000,975 975,985 C960,990 940,995 920,1000 C850,1015 770,1025 700,1035 C660,1060 625,1100 597,1137 L590,1130 C610,1090 640,1050 680,1022 C750,1010 850,995 920,975 C950,965 970,950 975,940 C920,920 870,895 820,870 C760,830 715,785 680,740 C645,685 615,625 590,570 C565,520 545,470 530,430 C505,390 480,340 450,300 C430,280 410,268 390,262 C330,258 270,270 210,290 C185,298 160,305 140,305 Z"/>
<path fill="#0a0806" d="M735,1042 C755,1060 770,1090 782,1128 L772,1135 C760,1105 745,1078 720,1062 Z M985,1105 C1015,1090 1050,1085 1078,1098 L1072,1132 L1062,1132 L1062,1108 C1040,1102 1015,1108 995,1120 L985,1140 L975,1135 Z"/>
<g fill="none" stroke="#0a0806" stroke-linecap="round">
<path stroke-width="22" d="M975,945 C965,985 930,998 850,1010"/><path stroke-width="14" d="M850,1010 C800,1018 750,1025 700,1030"/><path stroke-width="11" d="M725,1045 C752,1065 770,1095 780,1128"/>
<path stroke-width="26" d="M1100,930 C1070,965 1040,1000 1015,1030"/><path stroke-width="18" d="M1015,1030 C985,1065 955,1100 932,1135"/><path stroke-width="9" d="M985,1132 C1000,1102 1040,1092 1072,1100 L1068,1130"/>
</g>
<path fill="#0a0806" d="M690,1016 C735,1012 765,1018 775,1030 C745,1040 715,1050 700,1062 C660,1088 625,1118 598,1140 L587,1131 C610,1090 645,1045 690,1016 Z"/>
<path fill="#1a1838" d="M620,290 C660,300 690,320 690,320 C700,370 720,410 740,440 C780,500 840,550 900,580 C1000,630 1100,665 1200,690 L1260,660 L1250,590 C1320,640 1380,710 1440,790 C1350,800 1250,790 1150,770 C1050,745 950,710 860,660 C800,625 740,580 700,540 C680,520 670,500 660,480 C640,430 600,360 560,300 Z"/>
<path fill="#0a0806" d="M780,640 C880,690 1000,730 1160,755 L1160,765 C1000,745 880,710 780,655 Z M800,690 C900,735 1000,760 1120,780 L1120,788 C1000,772 900,748 800,702 Z" opacity=".8"/>
<path fill="#b5a614" d="M660,170 C690,165 720,180 755,210 C800,255 830,300 850,337 C900,375 950,410 1000,440 C1090,495 1170,540 1250,590 L1260,660 L1200,690 C1100,665 1000,630 900,580 C840,550 780,500 740,440 C720,410 700,370 690,320 C670,300 640,290 620,290 C605,270 600,250 600,232 C620,205 640,185 660,170 Z"/>
<path fill="#8a7d12" d="M850,337 C800,355 750,380 705,410 C715,430 725,440 740,455 C770,420 810,390 860,365 Z"/>
<path fill="#8a7d12" d="M560,265 C600,260 660,265 690,290 C700,310 700,325 692,330 C670,305 640,295 610,292 C590,285 570,275 560,265 Z"/>
<path fill="#8a7d12" d="M740,455 C780,520 840,560 900,590 C1000,640 1100,670 1200,692 L1230,675 C1130,650 1030,615 950,575 C880,540 800,500 760,440 Z"/>
<path fill="#8f8212" d="M860,400 C950,440 1050,490 1140,545 C1180,570 1220,590 1250,600 L1260,660 L1200,690 C1100,665 1000,630 900,580 C870,560 850,540 835,515 C840,470 850,430 860,400 Z"/>
<path fill="#1a1838" opacity=".75" d="M1060,505 C1130,545 1200,580 1250,600 L1260,660 L1230,675 C1180,640 1120,600 1040,555 Z"/>
<g fill="none" stroke-linecap="round">
<g stroke="#5e5510" stroke-width="7" opacity=".9"><path d="M870,432 C930,455 990,485 1040,520"/><path d="M850,462 C920,490 1000,525 1070,570"/><path d="M835,495 C920,530 1010,570 1100,615"/><path d="M860,545 C940,580 1020,610 1110,645"/></g>
<g stroke="#a89a14" stroke-width="7" opacity=".95"><path d="M1040,520 C1100,550 1170,590 1245,628"/><path d="M1010,540 C1090,575 1170,615 1250,650"/><path d="M990,570 C1070,605 1160,640 1250,670"/><path d="M1010,605 C1080,632 1150,658 1225,682"/><path d="M1080,650 C1130,668 1170,680 1205,692"/></g>
</g>
<path fill="#5b2150" d="M470,237 C500,205 540,175 580,165 C620,160 645,162 662,168 C640,185 620,205 600,232 L470,240 Z"/>
<path fill="#5b2150" d="M390,262 C430,255 470,258 505,268 C540,320 580,390 605,450 C605,465 600,470 590,468 C560,420 530,380 505,345 C480,315 450,285 390,262 Z"/>
<path fill="#4b44a8" d="M505,268 C525,262 545,275 560,300 C600,360 640,430 660,480 C665,505 650,525 625,527 C595,520 570,495 550,470 C530,440 515,405 500,370 C520,395 560,440 590,468 C600,470 605,465 605,450 C580,390 540,320 505,268 Z"/>
<path fill="#0a0806" d="M340,225 C390,222 430,230 470,237 C510,235 560,232 600,232 C615,240 620,255 612,268 C580,272 540,268 505,262 C460,252 400,240 340,232 Z"/>
</g>

<g id="clown" transform="translate(205,1015) scale(0.102926)" stroke="#4a1a1c" stroke-width="10.5" stroke-linejoin="round">
<!-- ventral fin (behind) -->
<path fill="#f08a1c" d="M895,845 C910,880 940,910 965,922 C1010,945 1060,960 1100,960 C1150,935 1200,900 1232,868 C1150,850 1000,840 895,845 Z"/>
<path fill="#4a1a1c" stroke="none" d="M895,845 C910,880 940,910 965,922 C985,930 1010,940 1030,945 C1000,915 975,880 965,850 Z"/>
<!-- anal fin -->
<path fill="#f9a825" d="M545,680 C525,700 515,715 520,725 C540,750 570,770 600,782 C680,805 770,820 850,832 L850,700 Z"/>
<path fill="#4a1a1c" stroke="none" d="M545,690 C525,705 518,718 522,726 C540,750 570,770 605,783 C585,760 565,725 560,695 Z"/>
<!-- tail -->
<path fill="#ffffff" d="M400,458 C330,435 260,412 200,397 C165,390 135,395 128,415 C115,470 115,540 122,600 C128,650 145,700 165,715 C185,728 215,725 240,718 C310,700 380,680 450,662 Z"/>
<path fill="#f9a825" stroke="none" d="M405,462 C340,440 280,420 225,408 C190,420 170,450 165,500 C160,560 175,640 200,690 C215,705 235,705 255,700 C320,685 390,670 450,658 Z"/>
<path fill="#4a1a1c" stroke="none" d="M225,405 C190,400 165,415 158,445 C150,500 158,580 175,640 C185,680 205,715 235,718 C255,716 270,710 280,705 C250,650 235,560 240,480 C245,450 255,425 270,412 Z"/>
<g fill="none" stroke="#4a1a1c" stroke-width="9" stroke-linecap="round"><path d="M255,430 L330,445"/><path d="M245,465 L345,480"/><path d="M240,500 L310,508"/><path d="M240,530 L350,540"/><path d="M242,560 L320,562"/><path d="M245,590 L360,585"/><path d="M250,620 L330,610"/><path d="M258,650 L370,630"/><path d="M268,680 L340,660"/></g>
<!-- tail white band -->
<path fill="#ffffff" d="M400,458 C425,500 445,560 448,610 C450,630 450,650 448,662 L552,672 C575,620 575,570 560,540 C540,500 510,470 470,460 Z"/>
<!-- rear dorsal lobe + body -->
<path fill="#f9a825" d="M470,460 C455,420 450,380 458,355 C470,320 490,300 515,296 C550,292 585,295 612,305 C650,325 690,350 725,372 L900,305 C885,280 878,250 882,232 C900,200 950,170 1000,158 C1050,150 1100,160 1130,182 C1170,220 1200,262 1232,300 C1310,315 1380,340 1442,372 C1530,420 1610,480 1668,540 C1672,560 1665,590 1655,615 L1590,605 L1655,625 C1650,640 1645,650 1640,655 C1600,700 1560,735 1520,760 C1480,790 1430,815 1380,832 C1330,850 1280,860 1232,868 C1150,852 1000,845 900,842 C880,838 860,834 850,830 C770,805 690,780 600,740 C580,720 560,695 552,672 C575,620 575,570 560,540 C540,500 510,470 470,460 Z"/>
<path fill="#4a1a1c" stroke="none" d="M470,460 C455,420 450,380 458,355 C470,320 490,300 515,296 C550,292 580,294 600,300 C560,300 520,310 500,335 C480,365 475,410 480,460 Z"/>
<path fill="#4a1a1c" stroke="none" d="M900,305 C885,280 878,250 882,232 C900,200 950,170 1000,158 C1040,152 1080,156 1110,168 C1060,170 1010,180 970,200 C930,225 905,260 910,300 Z"/>
<g fill="none" stroke-width="5"><path d="M960,215 C990,240 1020,270 1040,300"/><path d="M1005,190 C1040,220 1075,265 1095,310"/><path d="M1060,185 C1095,220 1125,255 1150,295"/><path d="M1105,190 C1140,225 1165,255 1190,290"/><path d="M925,255 C945,270 965,285 980,300"/></g>
<!-- mid white band -->
<path fill="#ffffff" d="M725,372 L900,305 C915,350 935,395 960,425 C990,460 1020,485 1050,500 C1100,525 1160,555 1212,592 C1200,620 1185,640 1170,652 C1100,660 1020,665 950,672 C920,685 895,700 880,720 C875,750 885,780 900,795 C915,815 930,825 945,832 C915,835 880,835 852,830 C840,790 835,740 842,700 C855,670 875,640 882,612 C880,580 878,550 870,520 C840,465 790,415 725,372 Z"/>
<!-- pectoral fin -->
<path fill="#f9a825" d="M882,722 C895,700 920,685 950,675 C1020,665 1100,660 1180,660 C1215,690 1245,725 1262,760 C1240,795 1210,825 1180,850 C1120,855 1060,855 1000,850 C960,835 925,815 900,790 C885,770 878,745 882,722 Z"/>
<path fill="#4a1a1c" stroke="none" d="M882,722 C895,700 920,685 950,675 C965,673 980,671 995,670 C950,700 925,740 930,775 C935,800 950,820 968,838 C940,825 915,808 900,790 C885,770 878,745 882,722 Z"/>
<g fill="none" stroke="#4a1a1c" stroke-width="9" stroke-linecap="round"><path d="M950,700 L1040,690"/><path d="M935,735 L1060,715"/><path d="M935,770 L1030,750"/><path d="M950,805 L1050,775"/><path d="M975,830 L1060,800"/></g>
<g fill="none" stroke-width="5"><path d="M1000,850 C1060,810 1120,770 1180,730"/><path d="M1060,855 C1110,820 1160,790 1215,755"/><path d="M960,800 C1020,770 1090,735 1150,700"/><path d="M1120,855 C1160,830 1200,805 1235,785"/></g>
<!-- head white band -->
<path fill="#ffffff" d="M1350,350 C1382,358 1412,368 1440,382 C1412,430 1390,495 1385,560 C1385,640 1420,720 1470,770 C1450,785 1425,797 1400,805 C1350,740 1310,650 1300,560 C1300,480 1320,410 1350,350 Z"/>
<!-- eye -->
<circle cx="1472" cy="503" r="52" fill="#ffffff" stroke="none"/>
<circle cx="1480" cy="500" r="30" fill="#2a1a14" stroke="none"/>
<circle cx="1468" cy="490" r="8" fill="#ffffff" stroke="none"/>
<path fill="#ffffff" stroke-width="5" d="M1590,605 C1615,612 1640,617 1660,618 C1655,628 1650,635 1645,640 C1625,632 1605,620 1590,605 Z"/>
</g>

<linearGradient id="shBelly" gradientUnits="userSpaceOnUse" x1="600" y1="0" x2="1740" y2="0">
<stop offset="0" stop-color="#a3b0d3"/><stop offset="0.3" stop-color="#bcc5de"/><stop offset="0.55" stop-color="#e2e4ee"/><stop offset="0.75" stop-color="#f2f2f5"/><stop offset="1" stop-color="#ededf2"/></linearGradient>
<linearGradient id="shNose" gradientUnits="userSpaceOnUse" x1="1430" y1="0" x2="1745" y2="0">
<stop offset="0" stop-color="#120810"/><stop offset="0.6" stop-color="#4a1a3a"/><stop offset="1" stop-color="#5e2548"/></linearGradient>
<linearGradient id="shHi" gradientUnits="userSpaceOnUse" x1="400" y1="0" x2="1350" y2="0">
<stop offset="0" stop-color="#182032" stop-opacity="0.75"/><stop offset="0.6" stop-color="#161e30" stop-opacity="0.6"/><stop offset="1" stop-color="#0a0c14" stop-opacity="0"/></linearGradient>
<filter id="shBlur" x="-10%" y="-30%" width="120%" height="160%"><feGaussianBlur stdDeviation="14"/></filter>
<filter id="shBlur2" x="-10%" y="-30%" width="120%" height="160%"><feGaussianBlur stdDeviation="9"/></filter>
<clipPath id="shBellyClip"><path d="M612,592 C700,565 800,540 900,512 C950,495 1000,470 1050,440 C1100,415 1150,395 1200,380 C1270,355 1340,330 1400,310 C1440,298 1470,292 1500,290 C1580,270 1660,240 1742,202 C1745,215 1730,250 1705,290 C1680,330 1640,370 1600,400 C1540,445 1470,480 1400,510 C1330,540 1260,565 1200,580 C1165,588 1130,592 1100,592 C1000,598 900,600 800,600 C740,602 690,606 650,612 L620,640 C612,660 600,680 590,695 L600,640 Z"/></clipPath>
<g id="shark" transform="translate(30,1145) scale(0.200441)">
<path fill="#050508" d="M60,245 C150,290 300,370 420,432 L440,400 C445,392 455,390 465,395 C475,400 490,410 500,422 C550,410 600,395 640,372 C670,350 695,320 710,290 C700,220 685,140 688,72 C695,66 705,67 720,78 C780,130 840,190 902,247 C1000,235 1100,215 1200,200 C1300,190 1400,184 1500,180 C1580,176 1650,174 1700,175 C1725,177 1740,184 1747,195 C1745,215 1730,250 1705,290 C1680,330 1640,370 1600,400 C1540,445 1470,480 1400,510 C1330,540 1260,565 1200,580 C1165,588 1130,592 1100,592 C1000,598 900,600 800,600 C740,602 690,606 650,612 L620,640 C612,660 600,680 590,695 L575,692 C570,660 567,625 568,592 L520,602 C505,585 490,565 478,545 C478,590 472,640 465,668 C455,678 440,680 432,672 C425,620 415,570 405,528 C350,480 250,400 160,325 C120,290 85,262 60,245 Z"/>
<path fill="url(#shBelly)" d="M612,592 C700,565 800,540 900,512 C950,495 1000,470 1050,440 C1100,415 1150,395 1200,380 C1270,355 1340,330 1400,310 C1440,298 1470,292 1500,290 C1580,270 1660,240 1742,202 C1745,215 1730,250 1705,290 C1680,330 1640,370 1600,400 C1540,445 1470,480 1400,510 C1330,540 1260,565 1200,580 C1165,588 1130,592 1100,592 C1000,598 900,600 800,600 C740,602 690,606 650,612 L620,640 C612,660 600,680 590,695 L600,640 Z"/>
<g clip-path="url(#shBellyClip)"><path filter="url(#shBlur)" fill="none" stroke="#0a0c14" stroke-opacity=".55" stroke-width="46" d="M900,512 C950,495 1000,470 1050,440 C1100,415 1150,395 1200,380 C1270,355 1340,330 1400,310 C1440,298 1470,292 1500,290 C1580,270 1660,240 1742,202"/><path filter="url(#shBlur)" fill="none" stroke="#7f8aa8" stroke-opacity=".35" stroke-width="30" d="M1100,600 C1200,588 1330,545 1400,515 C1480,480 1560,440 1620,390"/></g>
<path filter="url(#shBlur2)" fill="url(#shHi)" d="M410,480 C500,445 600,425 700,372 C800,322 900,292 1000,272 C1100,252 1200,237 1320,225 C1200,262 1100,302 1000,342 C900,382 800,420 700,450 C600,478 500,495 410,480 Z"/>
<path fill="url(#shNose)" d="M1430,200 C1500,186 1600,177 1700,176 C1725,178 1740,185 1745,196 C1720,216 1680,232 1640,240 C1580,246 1500,230 1430,200 Z"/>
<path fill="#050508" d="M1155,545 C1120,535 1080,535 1050,537 C1010,555 965,575 930,592 C935,650 920,720 895,780 C870,840 835,900 800,962 C830,935 870,890 910,840 C950,790 985,740 1010,700 C1040,660 1080,620 1110,592 Z"/>
<g fill="none" stroke-width="4" stroke-linecap="round">
<path stroke="#dfe3ee" d="M1035,405 C1050,430 1065,455 1078,472"/><path stroke="#8d93a6" d="M1078,472 C1088,485 1095,493 1102,498"/>
<path stroke="#dfe3ee" d="M1070,396 C1085,420 1100,442 1112,456"/><path stroke="#8d93a6" d="M1112,456 C1125,472 1135,484 1142,490"/>
<path stroke="#dfe3ee" d="M1103,390 C1118,410 1132,428 1145,442"/><path stroke="#8d93a6" d="M1145,442 C1158,458 1168,472 1178,484"/>
<path stroke="#dfe3ee" d="M1137,385 C1150,400 1162,415 1172,426"/><path stroke="#8d93a6" d="M1172,426 C1186,444 1198,462 1208,480"/>
</g>
<circle cx="1412" cy="348" r="22" fill="#f3b3c6" opacity=".32"/><circle cx="1412" cy="348" r="12" fill="#f3b3c6" opacity=".3"/>
<ellipse cx="1476" cy="300" rx="10" ry="13" fill="#cfd6d6" stroke="#222" stroke-width="3"/>
<ellipse cx="1478" cy="300" rx="4" ry="7" fill="#111"/>
<path fill="none" stroke="#6a6a72" stroke-width="3.5" d="M1440,402 C1465,400 1490,392 1512,382 C1545,368 1580,352 1614,337"/>
<path fill="none" stroke="#8a8a92" stroke-width="2" d="M1100,590 C1200,578 1330,535 1400,505"/>
</g>


</defs>
<rect width="1846" height="1418" fill="#f3f3f3"/>
<text y="127.8" font-family="'Liberation Sans',sans-serif" font-weight="bold" font-size="60.5" fill="#57369e"><tspan x="88.8" textLength="73.7" lengthAdjust="spacingAndGlyphs">No</tspan> <tspan x="174.5" textLength="158.1" lengthAdjust="spacingAndGlyphs">labels</tspan></text>
<!-- vertical bar + arrows -->
<g fill="#2790cf">
<rect x="442" y="169" width="16.7" height="1140"/>
<rect x="450" y="730.7" width="165" height="17"/>
<polygon points="613.8,696.1 712.9,738.9 613.8,781.7"/>
<rect x="1139.9" y="731.2" width="164" height="16.9"/>
<polygon points="1302.5,696.7 1401.7,739.4 1302.5,782.2"/>
<!-- up-right arrow -->
<path d="M975.2,528.4 Q1014,460 1057.5,388.1 L1028,370.5 L1114.2,307.1 L1100.9,413.4 L1071.4,396.6 Q1028,468 989.5,537 Z"/>
<!-- down-right arrow -->
<path d="M977.5,940.8 L991.8,932.8 L1073.7,1073.2 L1103.4,1056.6 L1116.1,1163.2 L1030.1,1098.9 L1059.4,1081.9 Z"/>
</g>
<!-- boxes -->
<rect x="787.1" y="68.1" width="705.6" height="203.1" fill="none" stroke="#57369e" stroke-width="6.3"/>
<rect x="1438.1" y="513.1" width="370.6" height="470" fill="none" stroke="#22caa1" stroke-width="6.3"/>
<rect x="780" y="1182.1" width="719.7" height="193.3" fill="none" stroke="#ff4a2d" stroke-width="6.3"/>
<!-- G2 logo -->
<g fill="#ff492c" role="img" aria-label="G2"><title>G2</title>
<path d="M1771.2,31.1 A54.8,54.8 0 1 0 1793.3,128.9 L1781.3,108.4 A31.3,31.3 0 1 1 1760.7,53.6 Z"/>
<polygon points="1771.5,77.2 1799,77.2 1812.4,100.7 1798.8,124 1785.5,100.8 1758.3,100.8"/>
<text x="1774.3" y="69.8" font-family="'Liberation Sans',sans-serif" font-weight="bold" font-size="49.5" textLength="28" lengthAdjust="spacingAndGlyphs">2</text>
</g>


<path fill="#252f3d" fill-rule="evenodd" d="M944.16,601.96A14.1,14.1 0 0 0 970.64,601.96A70,70 0 0 1 980.31,604.55A14.1,14.1 0 0 0 1003.23,617.79A70,70 0 0 1 1010.31,624.87A14.1,14.1 0 0 0 1023.55,647.79A70,70 0 0 1 1026.14,657.46A14.1,14.1 0 0 0 1026.14,683.94A70,70 0 0 1 1023.55,693.61A14.1,14.1 0 0 0 1010.31,716.53A70,70 0 0 1 1003.23,723.61A14.1,14.1 0 0 0 980.31,736.85A70,70 0 0 1 970.64,739.44A14.1,14.1 0 0 0 944.16,739.44A70,70 0 0 1 934.49,736.85A14.1,14.1 0 0 0 911.57,723.61A70,70 0 0 1 904.49,716.53A14.1,14.1 0 0 0 891.25,693.61A70,70 0 0 1 888.66,683.94A14.1,14.1 0 0 0 888.66,657.46A70,70 0 0 1 891.25,647.79A14.1,14.1 0 0 0 904.49,624.87A70,70 0 0 1 911.57,617.79A14.1,14.1 0 0 0 934.49,604.55A70,70 0 0 1 944.16,601.96ZM993.4,670.7A36,36 0 1 0 921.4,670.7A36,36 0 1 0 993.4,670.7Z"/>
<path fill="#24c9a1" fill-rule="evenodd" d="M832.06,682.46A14.1,14.1 0 0 0 858.54,682.46A70,70 0 0 1 868.21,685.05A14.1,14.1 0 0 0 891.13,698.29A70,70 0 0 1 898.21,705.37A14.1,14.1 0 0 0 911.45,728.29A70,70 0 0 1 914.04,737.96A14.1,14.1 0 0 0 914.04,764.44A70,70 0 0 1 911.45,774.11A14.1,14.1 0 0 0 898.21,797.03A70,70 0 0 1 891.13,804.11A14.1,14.1 0 0 0 868.21,817.35A70,70 0 0 1 858.54,819.94A14.1,14.1 0 0 0 832.06,819.94A70,70 0 0 1 822.39,817.35A14.1,14.1 0 0 0 799.47,804.11A70,70 0 0 1 792.39,797.03A14.1,14.1 0 0 0 779.15,774.11A70,70 0 0 1 776.56,764.44A14.1,14.1 0 0 0 776.56,737.96A70,70 0 0 1 779.15,728.29A14.1,14.1 0 0 0 792.39,705.37A70,70 0 0 1 799.47,698.29A14.1,14.1 0 0 0 822.39,685.05A70,70 0 0 1 832.06,682.46ZM881.3,751.2A36,36 0 1 0 809.3,751.2A36,36 0 1 0 881.3,751.2Z"/>
<path fill="#57369e" fill-rule="evenodd" d="M995.96,732.56A14.1,14.1 0 0 0 1022.44,732.56A70,70 0 0 1 1032.11,735.15A14.1,14.1 0 0 0 1055.03,748.39A70,70 0 0 1 1062.11,755.47A14.1,14.1 0 0 0 1075.35,778.39A70,70 0 0 1 1077.94,788.06A14.1,14.1 0 0 0 1077.94,814.54A70,70 0 0 1 1075.35,824.21A14.1,14.1 0 0 0 1062.11,847.13A70,70 0 0 1 1055.03,854.21A14.1,14.1 0 0 0 1032.11,867.45A70,70 0 0 1 1022.44,870.04A14.1,14.1 0 0 0 995.96,870.04A70,70 0 0 1 986.29,867.45A14.1,14.1 0 0 0 963.37,854.21A70,70 0 0 1 956.29,847.13A14.1,14.1 0 0 0 943.05,824.21A70,70 0 0 1 940.46,814.54A14.1,14.1 0 0 0 940.46,788.06A70,70 0 0 1 943.05,778.39A14.1,14.1 0 0 0 956.29,755.47A70,70 0 0 1 963.37,748.39A14.1,14.1 0 0 0 986.29,735.15A70,70 0 0 1 995.96,732.56ZM1045.2,801.3A36,36 0 1 0 973.2,801.3A36,36 0 1 0 1045.2,801.3Z"/>

<use href="#tuna"/>
<use href="#calico"/>
<use href="#ibis"/>
<use href="#obird"/>
<use href="#redfish"/>
<use href="#greycat"/>
<use href="#gbird"/>
<use href="#beagle"/>
<use href="#frenchie"/>
<use href="#whitecat"/>
<use href="#sunbird"/>
<use href="#clown"/>
<use href="#shark"/>

<use href="#tuna" transform="translate(1411.8,473.1)"/>
<use href="#calico" transform="translate(710,1052.4)"/>
<use href="#ibis" transform="translate(930,-226.9)"/>
<use href="#obird" transform="translate(930,-224.8)"/>
<use href="#redfish" transform="translate(1584.4,130)"/>
<use href="#greycat" transform="translate(839,713.2)"/>
<use href="#gbird" transform="translate(759.1,-563.1)"/>
<use href="#beagle" transform="translate(977.2,547.1)"/>
<use href="#frenchie" transform="translate(1280.9,376.2)"/>
<use href="#whitecat" transform="translate(576.8,376)"/>
<use href="#sunbird" transform="translate(1270.8,-904)"/>
<use href="#clown" transform="translate(1325,-473)"/>
<use href="#shark" transform="translate(1412.8,-376.3)"/>


</svg>
</body></html>
